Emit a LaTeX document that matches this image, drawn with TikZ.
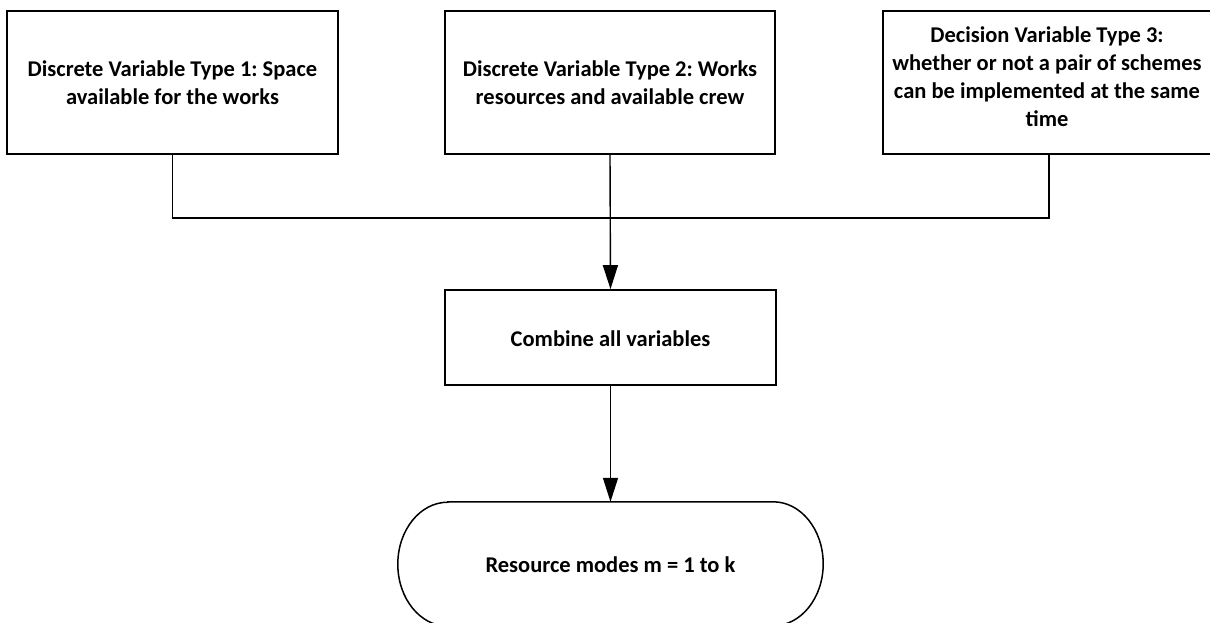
\documentclass[tikz,border=0pt]{standalone}
\usepackage{fontspec}
\setmainfont{Carlito}
\usetikzlibrary{arrows.meta}
\begin{document}
\frenchspacing
\begin{tikzpicture}[x=1pt,y=1pt,
  box/.style={draw, line width=1.7pt, rectangle, inner sep=0pt},
  txt/.style={inner sep=0pt, align=center,
              font=\fontsize{22.5}{28}\selectfont\bfseries},
  link/.style={line width=1.5pt},
  flow/.style={line width=1.4pt, -{Triangle[length=24pt,width=15pt]}}
]
\useasboundingbox (0,0) rectangle (1210,-622);

% input variables
\node[box, minimum width=331, minimum height=143] (b1) at (172.5,-82.5) {};
\node[txt] (b1t) at (172.5,-83)
  {Discrete Variable Type 1: Space\\available for the works};
\node[box, minimum width=330, minimum height=143] (b2) at (610,-82.5) {};
\node[txt] (b2t) at (610,-83)
  {Discrete Variable Type 2: Works\\resources and available crew};
\node[box, minimum width=332, minimum height=143] (b3) at (1049,-82.5) {};
\node[txt] (b3t) at (1047,-77)
  {Decision Variable Type 3:\\whether or not a pair of schemes\\can be implemented at the same\\time};

% combination step
\node[box, minimum width=331, minimum height=95] (comb) at (610.5,-337.5) {};
\node[txt] (combt) at (610.5,-339) {Combine all variables};

% terminator with elliptical ends
\node[inner sep=0pt, minimum width=425, minimum height=124] (term) at (610.5,-564) {};
\node[txt] (termt) at (610.5,-565) {Resource modes m = 1 to k};
\draw[line width=1.5pt]
  ([xshift=50pt]term.north west) -- ([xshift=-50pt]term.north east)
  arc[start angle=90, end angle=-90, x radius=50, y radius=62]
  -- ([xshift=50pt]term.south west)
  arc[start angle=270, end angle=90, x radius=50, y radius=62]
  -- cycle;

% connectors
\coordinate (join) at (b2.south |- 0,-218);
\draw[link] (b1.south) |- (join);
\draw[link] (b3.south) |- (join);
\draw[flow] (b2.south) -- (comb.north);
\draw[flow] (comb.south) -- (term.north);
\end{tikzpicture}
\end{document}
